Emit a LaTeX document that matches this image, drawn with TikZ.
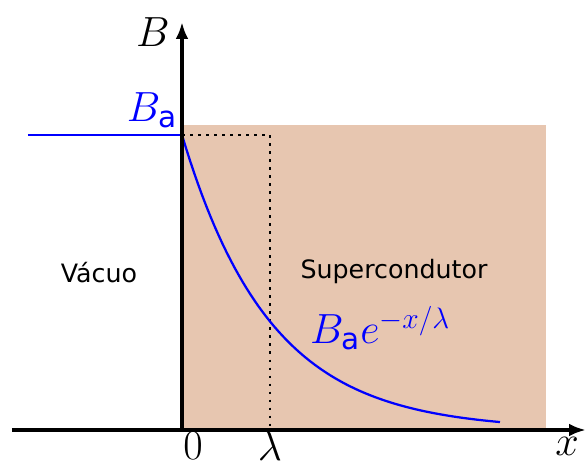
\RequirePackage{fix-cm}
\documentclass[tikz,border=0pt]{standalone}
\usepackage{amsmath}
\usepackage{fontspec}
\setsansfont{DejaVu Sans}
\usetikzlibrary{arrows.meta}
\definecolor{supercolor}{RGB}{231,198,176}
\newcommand{\mathsize}{\fontsize{30}{32}\selectfont}
\newcommand{\textsize}{\fontsize{18}{20}\selectfont}

\begin{document}
\begin{tikzpicture}
\tikzset{
  axis/.style={line width=2.8pt, -{Latex[length=12pt,width=9pt]}},
  field/.style={blue, line width=1.6pt},
  guide/.style={line width=1.3pt, dash pattern=on 2pt off 3.7pt},
  mathlabel/.style={font=\mathsize, inner sep=1pt},
  region/.style={font=\textsize\sffamily}
}
\useasboundingbox (-4.55,-0.95) rectangle (10.1,10.75);
\fill[supercolor] (0,0) rectangle (9.1,7.625); % superconductor
\coordinate (origin) at (0,0);
\coordinate (xstart) at (-4.25,0);
\coordinate (xend) at (10.1,0);
\coordinate (yend) at (0,10.2);
\coordinate (ba) at (0,7.375);
\coordinate (bafar) at (-3.85,7.375);
\coordinate (lamtop) at (2.2,7.375);
\coordinate (lambot) at (2.2,0);
\draw[guide] (ba) -- (lamtop) -- (lambot);
\draw[field] (bafar) -- (ba);
\draw[field] plot[domain=0:7.95, samples=80] (\x, {7.375*exp(-\x/2.2)}); % decay
\draw[axis] (xstart) -- (xend);
\draw[axis] (origin) -- (yend);
\node[mathlabel] (blabel) at (-0.725,9.95) {$B$};
\node[mathlabel, blue] (balabel) at (-0.75,8.0) {$B_{\textsf{a}}$};
\node[mathlabel] (zero) at (0.275,-0.4) {$0$};
\node[mathlabel] (lambda) at (2.2,-0.4) {$\lambda$};
\node[mathlabel] (xlabel) at (9.625,-0.4) {$x$};
\node[mathlabel, blue] (decay) at (4.95,2.55) {$B_{\textsf{a}}e^{-x/\lambda}$};
\node[region] (vacuum) at (-2.075,3.925) {Vácuo};
\node[region] (super) at (5.3,3.95) {Supercondutor};
\end{tikzpicture}
\end{document}
